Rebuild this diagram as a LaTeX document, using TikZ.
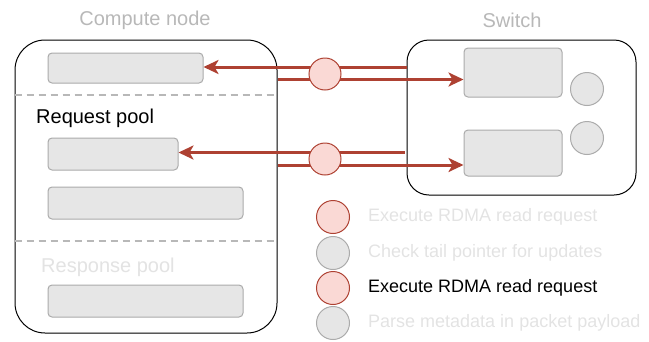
\documentclass[tikz,border=0pt]{standalone}
\usepackage{fontspec}
\setmainfont{Liberation Sans}
\usetikzlibrary{arrows.meta}
\definecolor{rdark}{HTML}{AE4132}
\definecolor{rfill}{HTML}{FAD9D5}
\definecolor{gfill}{HTML}{E6E6E6}
\definecolor{gline}{HTML}{ABABAB}
\definecolor{ttl}{HTML}{B8B8B8}
\definecolor{pale}{HTML}{E3E3E3}
\tikzset{
  container/.style={draw=black, line width=1pt, fill=white, inner sep=0pt},
  slot/.style={draw=gline, fill=gfill, line width=1pt, rounded corners=4pt, inner sep=0pt},
  gdot/.style={circle, draw=gline, fill=gfill, line width=1pt, minimum size=33pt, inner sep=0pt},
  rdot/.style={circle, draw=rdark, fill=rfill, line width=1pt, minimum size=33pt, inner sep=0pt},
  rline/.style={draw=rdark, line width=3pt},
  rarrow/.style={rline, -{Stealth[length=15pt,width=14pt,inset=4pt]}},
  sep/.style={draw=ttl, line width=2pt, dash pattern=on 7pt off 5pt},
  bigtxt/.style={font=\fontsize{20}{24}\selectfont, inner sep=0pt},
  legtxt/.style={font=\fontsize{18}{22}\selectfont, inner sep=0pt, anchor=west},
}
\begin{document}
\begin{tikzpicture}[x=1pt,y=-1pt]
\useasboundingbox (0,0) rectangle (649,341);
% containers
\node[container, rounded corners=30pt, minimum width=262pt, minimum height=293pt] (compute) at (146,186.5) {};
\node[container, rounded corners=22pt, minimum width=229pt, minimum height=155pt] (switch) at (521.5,117.5) {};
% titles
\node[bigtxt, text=ttl] (ctitle) at (145,20) {Compute node};
\node[bigtxt, text=ttl] (stitle) at (512,20) {Switch};
% compute slots
\node[slot, minimum width=155pt, minimum height=30pt] (cb1) at (125.5,68) {};
\node[slot, minimum width=130pt, minimum height=32pt] (cb2) at (113,154) {};
\node[slot, minimum width=195pt, minimum height=32pt] (cb3) at (145.5,203) {};
\node[slot, minimum width=195pt, minimum height=32pt] (cb4) at (145.5,301) {};
% separators
\coordinate (s1) at (0,95);
\coordinate (s2) at (0,241);
\draw[sep] (compute.west |- s1) -- ([xshift=-4pt]compute.east |- s1);
\draw[sep] (compute.west |- s2) -- ([xshift=-4pt]compute.east |- s2);
% pool labels
\node[bigtxt, anchor=west] (reqpool) at (36,118) {Request pool};
\node[bigtxt, anchor=west, text=pale] (resppool) at (41,267) {Response pool};
% switch slots
\node[slot, minimum width=98pt, minimum height=49pt] (sbA) at (513,72.5) {};
\node[slot, minimum width=98pt, minimum height=46pt] (sbB) at (513,153) {};
\node[gdot] (scA) at (587,89) {};
\node[gdot] (scB) at (587,138) {};
% connectors
\coordinate (y1) at (0,67);
\coordinate (y2) at (0,79.5);
\coordinate (y3) at (0,152.5);
\coordinate (y4) at (0,165);
\draw[rarrow] (switch.west |- y1) -- (cb1.east |- y1);
\draw[rarrow] (compute.east |- y2) -- (sbA.west |- y2);
\draw[rarrow] ([xshift=-2pt]switch.west |- y3) -- (cb2.east |- y3);
\draw[rarrow] (compute.east |- y4) -- (sbB.west |- y4);
\node[rdot, minimum size=32pt] (m1) at (325,74) {};
\node[rdot, minimum size=32pt] (m2) at (325,159) {};
% legend
\node[rdot] (l1) at (333,217) {};
\node[gdot] (l2) at (333,253) {};
\node[rdot] (l3) at (333,288) {};
\node[gdot] (l4) at (333,323) {};
\node[legtxt, text=pale] (t1) at (368,217) {Execute RDMA read request};
\node[legtxt, text=pale] (t2) at (368,253) {Check tail pointer for updates};
\node[legtxt] (t3) at (368,288) {Execute RDMA read request};
\node[legtxt, text=pale] (t4) at (368,323) {Parse metadata in packet payload};
\end{tikzpicture}
\end{document}
